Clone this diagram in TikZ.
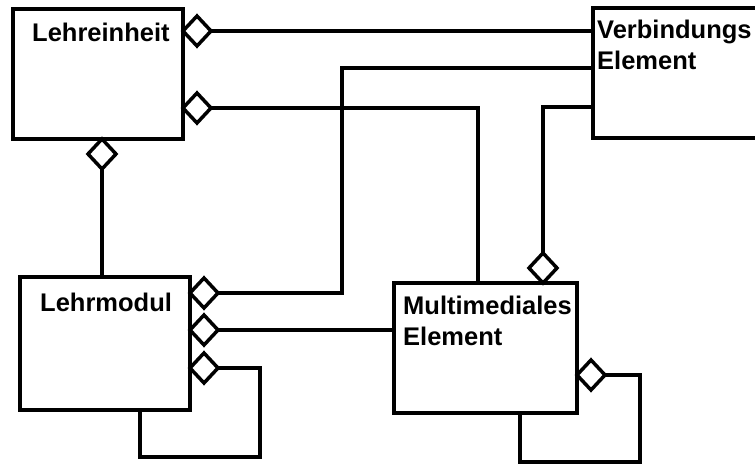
\documentclass[tikz,border=0pt]{standalone}
\usepackage{fontspec}
\setmainfont{Liberation Sans}
\usetikzlibrary{shapes.geometric,calc}
\tikzset{
  box/.style={draw,line width=4pt,fill=white,minimum width=170pt,minimum height=130pt,inner sep=0pt,outer sep=0pt},
  dia/.style={diamond,draw,line width=3.5pt,fill=white,minimum width=28pt,minimum height=30pt,inner sep=0pt,outer sep=0pt},
  conn/.style={line width=3.2pt},
  lbl/.style={font=\fontsize{25.5}{31}\selectfont\bfseries,inner sep=0pt,align=left},
}
\begin{document}
\begin{tikzpicture}[x=1pt,y=-1pt]
  \clip (0,0) rectangle (755,464);
  % classes
  \node[box] (einheit) at (98,74) {};
  \node[box,minimum width=200pt] (verbind) at (693,73) {};
  \node[box,minimum height=133pt] (modul) at (105,343.5) {};
  \node[box,minimum width=183pt] (medial) at (485.5,348) {};
  \node[lbl,anchor=base west] (einheit-t) at (32,41) {Lehreinheit};
  \node[lbl,anchor=base west] (modul-t) at (40,311) {Lehrmodul};
  \node[lbl,anchor=north west] (verbind-t) at (597,19.4) {Verbindungs\\Element};
  \node[lbl,anchor=north west] (medial-t) at (403,295.5) {Multimediales\\Element};
  % aggregation diamonds
  \node[dia,anchor=west] (einheit-d1) at (einheit.east |- 0,31) {};
  \node[dia,anchor=west] (einheit-d2) at (einheit.east |- 0,108) {};
  \node[dia,anchor=north] (einheit-d3) at (einheit.south -| 102,0) {};
  \node[dia,anchor=west] (modul-d1) at (modul.east |- 0,293) {};
  \node[dia,anchor=west] (modul-d2) at (modul.east |- 0,330) {};
  \node[dia,anchor=west] (modul-d3) at (modul.east |- 0,368) {};
  \node[dia,anchor=south] (medial-d1) at (medial.north -| 543,0) {};
  \node[dia,anchor=west] (medial-d2) at (medial.east |- 0,375) {};
  % bends
  \coordinate (k2) at (342,68);
  \coordinate (k3) at (478,108);
  \coordinate (k4) at (543,107);
  \coordinate (s1) at (260,457);
  \coordinate (s2) at (140,457);
  \coordinate (s3) at (640,462);
  \coordinate (s4) at (520,462);
  % connectors
  \draw[conn] (einheit-d1.east) -- (einheit-d1.east -| verbind.west);
  \draw[conn] (modul-d1.east) -| (k2) -- (k2 -| verbind.west);
  \draw[conn] (einheit-d2.east) -| (k3 |- medial.north);
  \draw[conn] (medial-d1.north) |- (k4 -| verbind.west);
  \draw[conn] (einheit-d3.south) -- (modul.north -| einheit-d3.south);
  \draw[conn] (modul-d2.east) -- (modul-d2.east -| medial.west);
  \draw[conn] (modul-d3.east) -| (s1) -| (s2 |- modul.south);
  \draw[conn] (medial-d2.east) -| (s3) -| (s4 |- medial.south);
\end{tikzpicture}
\end{document}
